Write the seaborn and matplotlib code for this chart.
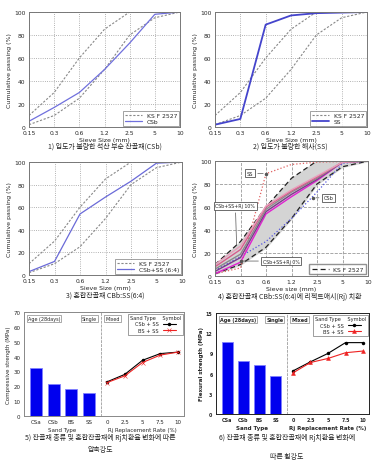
import matplotlib
matplotlib.use("Agg")
import matplotlib.pyplot as plt
import seaborn as sb
import pandas as pd
import numpy as np

# ---- data ----
sieve_labels = ["0.15", "0.3", "0.6", "1.2", "2.5", "5", "10"]
ks_upper = [10, 30, 60, 85, 100, 100, 100]
ks_lower = [2, 10, 25, 50, 80, 95, 100]
csb_pass = [5, 17, 30, 50, 73, 98, 100]
ss_pass = [2, 7, 89, 97, 99, 99.5, 100]
mix64_pass = [3, 12, 54, 69, 83, 99, 100]

rj_rates = [0, 2.5, 5, 7.5, 10]
rj_pass = {
    0: [2, 12, 54, 69, 83, 99, 100],
    2.5: [4, 16, 56, 71, 84, 99, 100],
    5: [6, 19, 58, 73, 85, 99, 100],
    7.5: [8, 23, 60, 74, 86, 99, 100],
    10: [10, 26, 61, 75, 87, 99, 100],
}
rj_colors = ["#e020d0", "#7a3a8a", "#8a8a8a", "#d85c8c", "#e8a0bc"]

sand_types = ["CSa", "CSb", "BS", "SS"]
comp_single = [32, 21.5, 18.3, 15.5]
comp_csb_ss = [23, 28, 37.5, 42, 43]
comp_bs_ss = [22.5, 27, 36, 41, 43]

flex_single = [10.75, 7.9, 7.25, 5.65]
flex_csb_ss = [6.4, 7.75, 9.0, 10.6, 10.6]
flex_bs_ss = [6.1, 7.65, 8.25, 9.1, 9.35]

KR = ["Noto Sans CJK KR", "DejaVu Sans"]
W, H = 374, 464
CAP = 5.0

sb.set_style("white")
plt.rcParams["font.family"] = ["DejaVu Sans", "Noto Sans CJK KR"]

fig = plt.figure(figsize=(W / 100, H / 100), dpi=100)


def px(l, t, r, b):
    return [l / W, 1 - b / H, (r - l) / W, (b - t) / H]


def grading_axes(rect, ylabel="Cumulative passing (%)", xlabel="Sieve Size (mm)"):
    ax = fig.add_axes(px(*rect))
    ax.set_ylabel(ylabel, fontsize=4.5, labelpad=1.5)
    ax.set_xlabel(xlabel, fontsize=4.5, labelpad=1)
    return ax


def finish_grading(ax, grid_ls=":"):
    ax.set_xlim(0, 6)
    ax.set_ylim(0, 100)
    ax.set_xticks(range(7))
    ax.set_xticklabels(sieve_labels, fontsize=4.3)
    ax.set_yticks(range(0, 101, 20))
    ax.tick_params(axis="y", labelsize=4.3, pad=1, length=1.5)
    ax.tick_params(axis="x", pad=1, length=1.5)
    ax.set_axisbelow(True)
    ax.grid(True, which="major", linestyle=grid_ls, color="#999999", linewidth=0.6)
    for s in ax.spines.values():
        s.set_color("#777777")
        s.set_linewidth(0.7)


pos = list(range(len(sieve_labels)))


def ks_lines(ax, color="#888888", lw=0.8, label="KS F 2527", dash=(2, 1.5)):
    sb.lineplot(x=pos, y=ks_upper, ax=ax, color=color, linestyle=(0, dash), linewidth=lw, label=label)
    sb.lineplot(x=pos, y=ks_lower, ax=ax, color=color, linestyle=(0, dash), linewidth=lw)


def small_legend(ax):
    leg = ax.legend(loc="lower right", fontsize=4.3, frameon=True, fancybox=False,
                    borderpad=0.3, handlelength=2.8, labelspacing=0.2, borderaxespad=0.2)
    leg.get_frame().set_edgecolor("#777777")
    leg.get_frame().set_linewidth(0.6)


# 1) CSb
ax1 = grading_axes((29, 13, 180, 128))
ks_lines(ax1)
sb.lineplot(x=pos, y=csb_pass, ax=ax1, color="#7070dd", linewidth=0.9, label="CSb")
small_legend(ax1)
finish_grading(ax1)
fig.text(105 / W, 1 - 147 / H, "1) 입도가 불량한 석산 부순 잔골재(CSb)", fontsize=CAP, family=KR, ha="center", va="center")

# 2) SS
ax2 = grading_axes((215, 13, 367, 128))
ks_lines(ax2)
sb.lineplot(x=pos, y=ss_pass, ax=ax2, color="#4444cc", linewidth=1.3, label="SS")
small_legend(ax2)
finish_grading(ax2)
fig.text(290 / W, 1 - 147 / H, "2) 입도가 불량한 해사(SS)", fontsize=CAP, family=KR, ha="center", va="center")

# 3) CSb+SS (6:4)
ax3 = grading_axes((29, 163, 182, 276))
ks_lines(ax3)
sb.lineplot(x=pos, y=mix64_pass, ax=ax3, color="#6a6ad8", linewidth=0.9, label="CSb+SS (6:4)")
small_legend(ax3)
finish_grading(ax3)
fig.text(105 / W, 1 - 296 / H, "3) 혼합잔골재 CBb:SS(6:4)", fontsize=CAP, family=KR, ha="center", va="center")

# 4) Rj replacement
ax4 = grading_axes((215, 162, 368, 277), xlabel="Sieve size (mm)")
ax4.fill_between(pos, ks_lower, ks_upper, color="#d4d4d4", zorder=1)
ks_lines(ax4, color="#222222", lw=0.9, dash=(4, 2.5))
sb.lineplot(x=pos, y=ss_pass, ax=ax4, color="#e06060", linestyle=":", linewidth=0.9)
sb.lineplot(x=pos, y=csb_pass, ax=ax4, color="#5555dd", linestyle=":", linewidth=0.9)
for rate, c in zip(rj_rates, rj_colors):
    sb.lineplot(x=pos, y=rj_pass[rate], ax=ax4, color=c, linewidth=1.0)
leg = ax4.legend(loc="lower right", fontsize=4.3, frameon=True, fancybox=False, borderpad=0.4,
                 handlelength=2.8, borderaxespad=0.3)
leg.get_frame().set_edgecolor("#777777")
finish_grading(ax4, grid_ls="--")
box = dict(boxstyle="square,pad=0.3", fc="white", ec="#555555", lw=0.6)
ax4.annotate("SS", xy=(2, 89), xytext=(1.37, 89.5), fontsize=3.6, ha="center", va="center", bbox=box,
             arrowprops=dict(arrowstyle="-", color="#555555", lw=0.5))
ax4.plot(2, 89, "o", color="#555555", ms=1.5)
ax4.annotate("CSb", xy=(3.85, 68), xytext=(4.45, 68), fontsize=3.6, ha="center", va="center", bbox=box,
             arrowprops=dict(arrowstyle="-", color="#555555", lw=0.5))
ax4.plot(3.85, 68, "o", color="#555555", ms=1.5)
ax4.annotate("CSb+SS+Rj 10%", xy=(0.85, 24), xytext=(0.8, 61), fontsize=3.4, ha="center", va="center", bbox=box,
             arrowprops=dict(arrowstyle="-", color="#555555", lw=0.5))
ax4.annotate("CSb+SS+Rj 0%", xy=(1, 13), xytext=(2.6, 13), fontsize=3.4, ha="center", va="center", bbox=box,
             arrowprops=dict(arrowstyle="-", color="#555555", lw=0.5))
ax4.plot(1, 13, "o", color="#555555", ms=1.5)
fig.text(290 / W, 1 - 297 / H, "4) 혼합잔골재 CBb:SS(6:4)에 리젝트애시(Rj) 치환", fontsize=CAP, family=KR,
         ha="center", va="center")


def strength_panel(left_rect, right_rect, single, csb_ss, bs_ss, ylim, yticks, ylabel, bold, bs_marker,
                   sp_color, tick_fs):
    fw = "bold" if bold else "normal"
    axl = fig.add_axes(px(*left_rect))
    axr = fig.add_axes(px(*right_rect), sharey=axl)
    df = pd.DataFrame({"sand": sand_types, "val": single})
    sb.barplot(data=df, x="sand", y="val", ax=axl, color="#0000ee", width=0.68,
               edgecolor="#8080ff", linewidth=0.6, saturation=1)
    axl.set_xlim(-0.68, 3.69)
    axl.set_ylim(*ylim)
    axl.set_yticks(yticks)
    axl.set_xlabel("Sand Type", fontsize=4.0, labelpad=1.5, fontweight=fw)
    axl.set_ylabel(ylabel, fontsize=4.0, labelpad=1.5, fontweight=fw)
    axl.tick_params(labelsize=tick_fs, pad=1, length=1.5)
    for lab in axl.get_xticklabels() + axl.get_yticklabels():
        lab.set_fontweight(fw)
    axl.spines["right"].set_visible(False)

    sb.lineplot(x=rj_rates, y=csb_ss, ax=axr, color="black", marker="o", markersize=2.5,
                linewidth=0.8, markeredgewidth=0, label="CSb + SS")
    sb.lineplot(x=rj_rates, y=bs_ss, ax=axr, color="#ee2222", marker=bs_marker, markersize=2.8,
                linewidth=0.8, markeredgewidth=0.4, markeredgecolor="#ee2222", label="BS + SS")
    axr.set_xlim(-0.85, 10.85)
    axr.set_xticks(rj_rates)
    axr.set_xticklabels(["0", "2.5", "5", "7.5", "10"])
    axr.set_xlabel("Rj Replacement Rate (%)", fontsize=4.0, labelpad=1.5, fontweight=fw)
    axr.set_ylabel("")
    axr.tick_params(axis="x", labelsize=tick_fs, pad=1, length=1.5)
    axr.tick_params(axis="y", left=False, labelleft=False)
    for lab in axr.get_xticklabels():
        lab.set_fontweight(fw)
    axr.spines["left"].set_linestyle((0, (2, 2)))
    axr.spines["left"].set_color("#aaaaaa")
    for a in (axl, axr):
        for name, s in a.spines.items():
            if name != "left" or a is axl:
                s.set_color(sp_color)
            s.set_linewidth(0.7)
    leg = axr.legend(loc="upper right", fontsize=3.6, title="Sand Type    Symbol", title_fontsize=3.6,
                     frameon=True, fancybox=False, borderpad=0.3, markerfirst=False, handlelength=2.5,
                     labelspacing=0.3, borderaxespad=0.3)
    leg.get_frame().set_edgecolor("#555555")
    leg.get_frame().set_linewidth(0.5)
    tb = dict(boxstyle="square,pad=0.2", fc="white", ec="#888888", lw=0.5)
    axl.text(0.05, 0.965, "Age (28days)", transform=axl.transAxes, fontsize=3.5, va="top", ha="left", bbox=tb,
             fontweight=fw)
    axl.text(0.95, 0.965, "Single", transform=axl.transAxes, fontsize=3.5, va="top", ha="right", bbox=tb,
             fontweight=fw)
    axr.text(0.05, 0.965, "Mixed", transform=axr.transAxes, fontsize=3.5, va="top", ha="left", bbox=tb,
             fontweight=fw)


strength_panel((24, 313, 101, 417), (101, 313, 184, 417), comp_single, comp_csb_ss, comp_bs_ss,
               (0, 70), range(0, 71, 10), "Compressive strength (MPa)", False, "x", "#888888", 4.0)
fig.text(100 / W, 1 - 438 / H, "5) 잔골재 종류 및 혼합잔골재에 Rj치환율 변화에 따른", fontsize=CAP, family=KR,
         ha="center", va="center")
fig.text(100 / W, 1 - 450 / H, "압축강도", fontsize=CAP, family=KR, ha="center", va="center")

strength_panel((216, 314, 287, 415), (287, 314, 369, 415), flex_single, flex_csb_ss, flex_bs_ss,
               (0, 15), range(0, 16, 3), "Flexural strength (MPa)", True, "^", "#222222", 3.4)
fig.text(287 / W, 1 - 438 / H, "6) 잔골재 종류 및 혼합잔골재에 Rj치환율 변화에", fontsize=CAP, family=KR,
         ha="center", va="center")
fig.text(287 / W, 1 - 457 / H, "따른 휨강도", fontsize=CAP, family=KR, ha="center", va="center")

fig.savefig("out.png", dpi=100, facecolor="white")
